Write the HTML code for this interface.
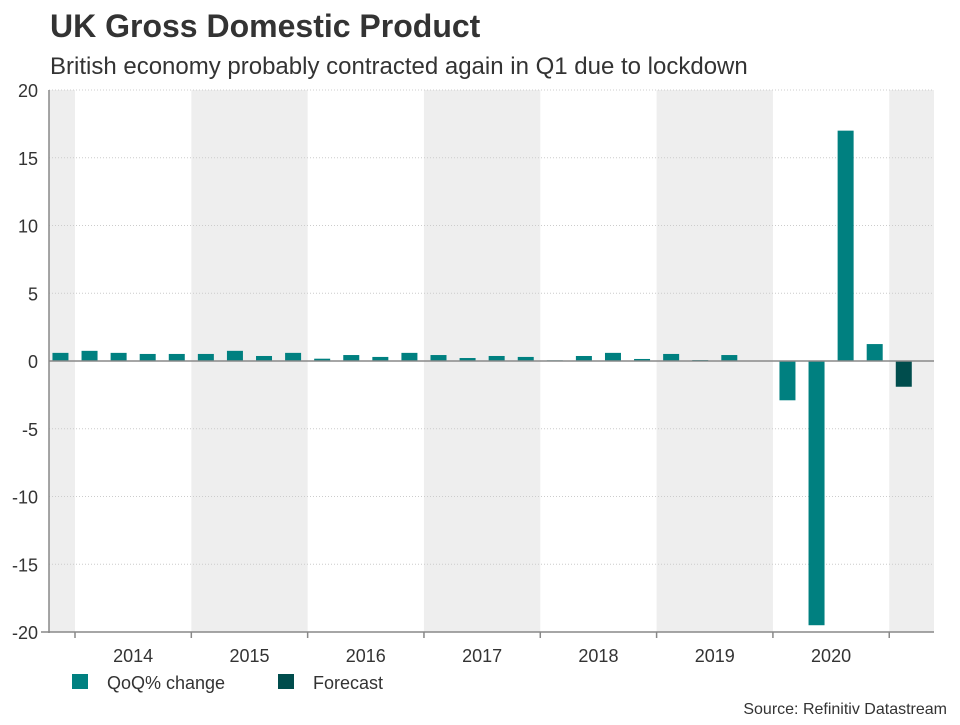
<!DOCTYPE html>
<html><head><meta charset="utf-8"><style>
body{margin:0;background:#fff;font-family:"Liberation Sans",Arial,sans-serif;}
svg text{font-family:"Liberation Sans",Arial,sans-serif;}
</style></head><body>
<svg id="chart" width="960" height="720">
<text x="50" y="37" font-size="32" font-weight="bold" fill="#333">UK Gross Domestic Product</text>
<text x="50" y="74" font-size="24" fill="#333">British economy probably contracted again in Q1 due to lockdown</text>
<g id="bands"></g><g id="grid"></g><g id="bars"></g><g id="axes"></g>
<g>
<rect x="72" y="674" width="16" height="15" fill="#008080"/>
<text x="107" y="689" font-size="18" fill="#333">QoQ% change</text>
<rect x="278" y="674" width="16" height="15" fill="#004d4d"/>
<text x="313" y="689" font-size="18" fill="#333">Forecast</text>
</g>
<text x="947" y="714" font-size="16" fill="#333" text-anchor="end">Source: Refinitiv Datastream</text>
</svg>
<script>
const quarters=["2013Q4","2014Q1","2014Q2","2014Q3","2014Q4","2015Q1","2015Q2","2015Q3","2015Q4","2016Q1","2016Q2","2016Q3","2016Q4","2017Q1","2017Q2","2017Q3","2017Q4","2018Q1","2018Q2","2018Q3","2018Q4","2019Q1","2019Q2","2019Q3","2019Q4","2020Q1","2020Q2","2020Q3","2020Q4","2021Q1"];
const values=[0.6,0.75,0.6,0.52,0.52,0.52,0.75,0.37,0.6,0.17,0.44,0.3,0.6,0.44,0.22,0.37,0.3,0.05,0.37,0.6,0.15,0.52,0.07,0.44,0.02,-2.9,-19.5,17.0,1.25,-1.9];
const isForecast=[0,0,0,0,0,0,0,0,0,0,0,0,0,0,0,0,0,0,0,0,0,0,0,0,0,0,0,0,0,1];
const years=["2014","2015","2016","2017","2018","2019","2020"];
const yTicks=[20,15,10,5,0,-5,-10,-15,-20];
const NS="http://www.w3.org/2000/svg";
const L=49,R=934,T=90,B=632,QW=29.08,X0=75-QW;
function x(i){return X0+i*QW;}
function y(v){return T+(20-v)*(B-T)/40;}
function mk(tag,a,p){const e=document.createElementNS(NS,tag);for(const k in a)e.setAttribute(k,a[k]);p.appendChild(e);return e;}
const bands=document.getElementById('bands'),grid=document.getElementById('grid'),bars=document.getElementById('bars'),axes=document.getElementById('axes');
for(let yr=-1;yr<=7;yr+=2){
 let s=Math.max(L,x(1+yr*4)),e=Math.min(R,x(1+(yr+1)*4));
 if(e<=s)continue;
 const r=mk('rect',{x:s,y:T,width:e-s,height:B-T,fill:'#eeeeee'},bands);
 
 
}
yTicks.forEach(v=>{
 const l=mk('line',{x1:L,x2:R,y1:y(v),y2:y(v),stroke:'#ccc','stroke-dasharray':'1,2','stroke-width':1},grid);
 
 
 const t=mk('text',{x:38,y:y(v)+7,'font-size':18,fill:'#333','text-anchor':'end'},axes);
 t.textContent=v;
 
 
});
values.forEach((v,i)=>{
 const c=x(i)+QW/2,top=Math.min(y(v),y(0)),h=Math.abs(y(v)-y(0));
 const r=mk('rect',{x:c-8,y:top,width:16,height:Math.max(h,0.5),fill:isForecast[i]?'#004d4d':'#008080'},bars);
 
 
});
const z=mk('line',{x1:L,x2:R,y1:y(0),y2:y(0),stroke:'#888','stroke-width':1.5},axes);


const ya=mk('line',{x1:L,x2:L,y1:T,y2:B+1,stroke:'#888','stroke-width':1.5},axes);


const xa=mk('line',{x1:L-8,x2:R,y1:B,y2:B,stroke:'#888','stroke-width':1.5},axes);


for(let k=0;k<=7;k++){
 const tx=x(1+k*4);
 const t=mk('line',{x1:tx,x2:tx,y1:B,y2:B+6,stroke:'#888','stroke-width':1.5},axes);
 
 
}
years.forEach((yr,k)=>{
 const t=mk('text',{x:x(1+k*4)+2*QW,y:662,'font-size':18,fill:'#333','text-anchor':'middle'},axes);
 t.textContent=yr;
 
 
});
</script>
</body></html>
